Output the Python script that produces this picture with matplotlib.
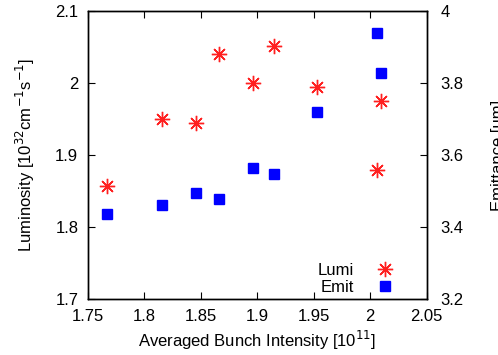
import matplotlib.pyplot as plt

plt.rcParams['font.family'] = ['Liberation Sans', 'DejaVu Sans']
plt.rcParams['font.size'] = 12

intensity = [1.767, 1.816, 1.846, 1.866, 1.896, 1.915, 1.953, 2.006, 2.010]
lumi = [1.857, 1.950, 1.945, 2.040, 2.000, 2.051, 1.994, 1.879, 1.975]
emit = [3.437, 3.461, 3.495, 3.479, 3.565, 3.546, 3.719, 3.940, 3.829]

fig = plt.figure(figsize=(4.98, 3.55), dpi=100)
ax = fig.add_axes([0.1767, 0.1577, 0.68, 0.8113])
ax2 = ax.twinx()

l1, = ax.plot(intensity, lumi, ls='none', marker=(8, 2, 0), ms=11, mew=1.0,
              color='#ff2020', label='Lumi')
l2, = ax2.plot(intensity, emit, ls='none', marker='s', ms=7,
               color='#0000ff', label='Emit')

ax.set_xlim(1.75, 2.05)
ax.set_ylim(1.7, 2.1)
ax2.set_ylim(3.2, 4.0)
ax.set_xticks([1.75, 1.8, 1.85, 1.9, 1.95, 2.0, 2.05])
ax.set_xticklabels(['1.75', '1.8', '1.85', '1.9', '1.95', '2', '2.05'])
ax.set_yticks([1.7, 1.8, 1.9, 2.0, 2.1])
ax.set_yticklabels(['1.7', '1.8', '1.9', '2', '2.1'])
ax2.set_yticks([3.2, 3.4, 3.6, 3.8, 4.0])
ax2.set_yticklabels(['3.2', '3.4', '3.6', '3.8', '4'])

ax.tick_params(axis='x', direction='in', length=5, top=True, pad=7)
ax.tick_params(axis='y', direction='in', length=5, pad=7)
ax2.tick_params(axis='y', direction='in', length=5, pad=10)
for a in (ax, ax2):
    for s in a.spines.values():
        s.set_linewidth(1.0)

ax.set_xlabel('Averaged Bunch Intensity [10$^{11}$]', labelpad=4)
ax.set_ylabel('Luminosity [10$^{32}$cm$^{-1}$s$^{-1}$]')
ax.yaxis.set_label_coords(-0.152, 0.5)
ax2.set_ylabel('Emittance [um]')
ax2.yaxis.set_label_coords(1.19, 0.5)

ax2.legend(handles=[l1, l2], loc='lower right', bbox_to_anchor=(0.942, -0.032),
           frameon=False, markerfirst=False, handlelength=1.0,
           handletextpad=1.4, labelspacing=0.1, borderpad=0.3)

fig.savefig('out.png', dpi=100)
